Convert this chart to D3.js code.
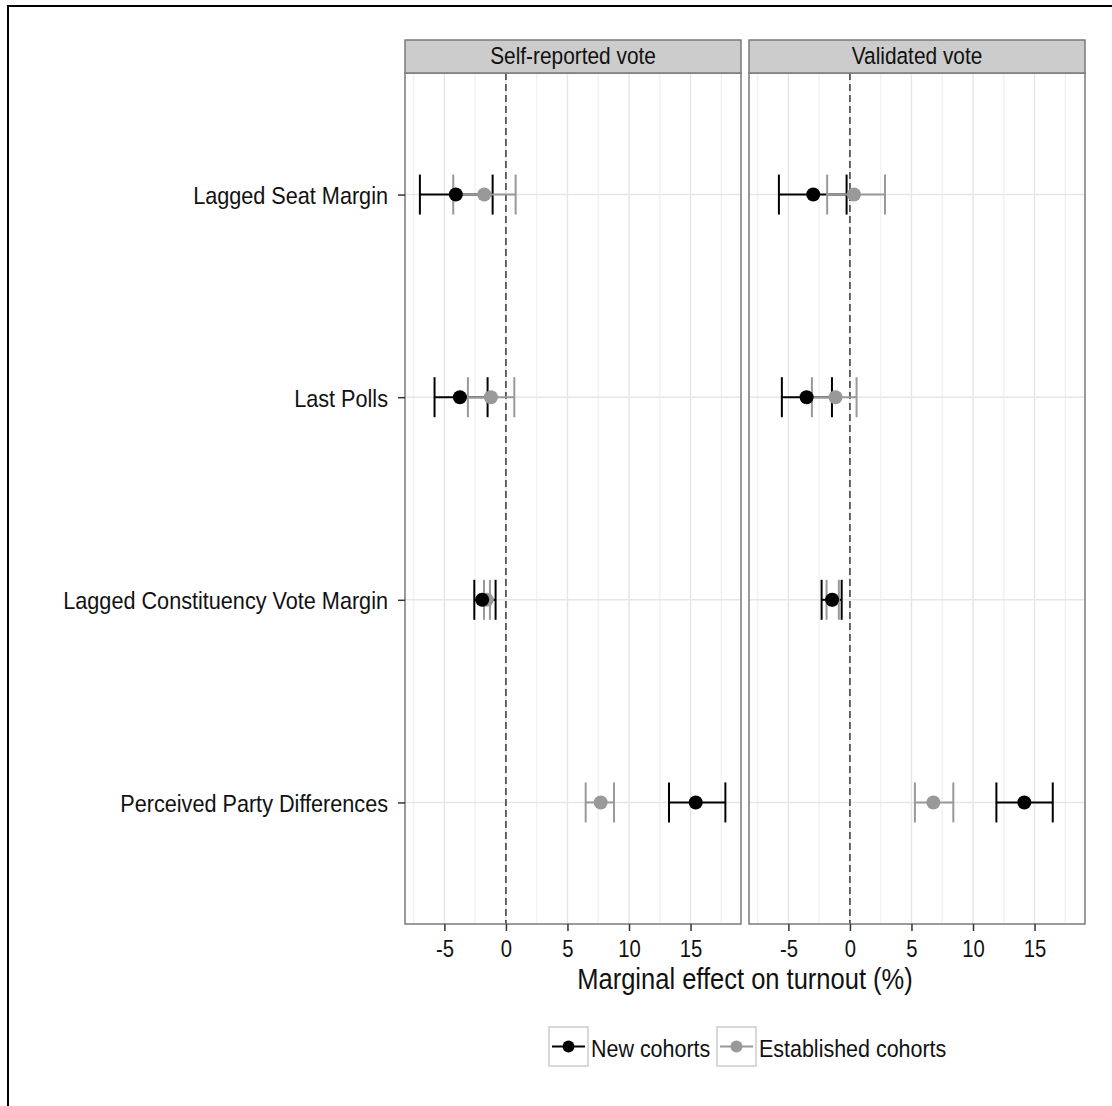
<!DOCTYPE html>
<html>
<head>
<meta charset="utf-8">
<script src="https://cdn.jsdelivr.net/npm/d3@7"></script>
<style>
  html, body { margin: 0; padding: 0; background: #fff; }
  svg { display: block; }
  text { font-family: "Liberation Sans", Arial, sans-serif; fill: #111; }
</style>
</head>
<body>
<script>
// Predictors (top to bottom) and facet panels
const predictors = ["Lagged Seat Margin", "Last Polls", "Lagged Constituency Vote Margin", "Perceived Party Differences"];
const panels = ["Self-reported vote", "Validated vote"];
const cohorts = ["New cohorts", "Established cohorts"];
const xTicks = [-5, 0, 5, 10, 15];

// Marginal effects (%) with 95% interval, per panel, in predictor order
const newSelfEst   = [-4.07, -3.74, -1.93, 15.42];
const newSelfLo    = [-6.99, -5.80, -2.57, 13.25];
const newSelfHi    = [-1.08, -1.49, -0.84, 17.83];
const estSelfEst   = [-1.76, -1.22, -1.55, 7.70];
const estSelfLo    = [-4.28, -3.09, -1.78, 6.48];
const estSelfHi    = [ 0.79,  0.68, -1.30, 8.78];

const newValEst    = [-2.98, -3.52, -1.45, 14.17];
const newValLo     = [-5.77, -5.53, -2.30, 11.90];
const newValHi     = [-0.27, -1.46, -0.67, 16.48];
const estValEst    = [ 0.33, -1.17, -1.40, 6.78];
const estValLo     = [-1.85, -3.09, -1.90, 5.28];
const estValHi     = [ 2.85,  0.54, -0.90, 8.40];

const rows = [];
predictors.forEach((p, i) => {
  rows.push({panel: panels[0], cohort: cohorts[0], pred: p, est: newSelfEst[i], lo: newSelfLo[i], hi: newSelfHi[i]});
  rows.push({panel: panels[0], cohort: cohorts[1], pred: p, est: estSelfEst[i], lo: estSelfLo[i], hi: estSelfHi[i]});
  rows.push({panel: panels[1], cohort: cohorts[0], pred: p, est: newValEst[i], lo: newValLo[i], hi: newValHi[i]});
  rows.push({panel: panels[1], cohort: cohorts[1], pred: p, est: estValEst[i], lo: estValLo[i], hi: estValHi[i]});
});

const W = 1112, H = 1106;
const SX = 0.88; // horizontally condensed lettering
const colour = d3.scaleOrdinal().domain(cohorts).range(["#000000", "#999999"]);

const svg = d3.select("body").append("svg").attr("width", W).attr("height", H);

// outer frame
svg.append("rect").attr("x", 8).attr("y", 6).attr("width", 1120).attr("height", 1120)
  .attr("fill", "none").attr("stroke", "#000").attr("stroke-width", 2);

function label(g, x, y, str, size, anchor, weight) {
  return g.append("text")
    .attr("transform", `translate(${x},${y}) scale(${SX},1)`)
    .attr("text-anchor", anchor || "start")
    .attr("font-size", size)
    .attr("font-weight", weight || "normal")
    .text(str);
}

const panelTop = 73, panelBottom = 924, stripTop = 40;
const panelX = [[405, 741], [749, 1085]];
const xDomain = [-8.2, 19.1];

const y = d3.scalePoint().domain(predictors).range([panelTop, panelBottom]).padding(0.6);
const capHalf = 20;

panels.forEach((pname, pi) => {
  const [x0, x1] = panelX[pi];
  const x = d3.scaleLinear().domain(xDomain).range([x0, x1]);
  const g = svg.append("g");

  // minor grid
  const minor = d3.range(-7.5, 19.1, 5);
  g.selectAll(".minor").data(minor).enter().append("line")
    .attr("x1", d => x(d)).attr("x2", d => x(d))
    .attr("y1", panelTop).attr("y2", panelBottom)
    .attr("stroke", "#f2f2f2").attr("stroke-width", 1.5);
  // major grid
  g.selectAll(".major").data(xTicks).enter().append("line")
    .attr("x1", d => x(d)).attr("x2", d => x(d))
    .attr("y1", panelTop).attr("y2", panelBottom)
    .attr("stroke", "#e6e6e6").attr("stroke-width", 1.5);
  g.selectAll(".hgrid").data(predictors).enter().append("line")
    .attr("x1", x0).attr("x2", x1)
    .attr("y1", d => y(d)).attr("y2", d => y(d))
    .attr("stroke", "#e6e6e6").attr("stroke-width", 1.5);

  // reference line at zero
  g.append("line")
    .attr("x1", x(0)).attr("x2", x(0)).attr("y1", panelTop).attr("y2", panelBottom)
    .attr("stroke", "#444").attr("stroke-width", 1.6).attr("stroke-dasharray", "7,4");

  const data = rows.filter(r => r.panel === pname);

  // error bars
  data.forEach(r => {
    const c = colour(r.cohort), yy = y(r.pred);
    g.append("line").attr("x1", x(r.lo)).attr("x2", x(r.hi)).attr("y1", yy).attr("y2", yy)
      .attr("stroke", c).attr("stroke-width", 2);
    [r.lo, r.hi].forEach(v => {
      g.append("line").attr("x1", x(v)).attr("x2", x(v)).attr("y1", yy - capHalf).attr("y2", yy + capHalf)
        .attr("stroke", c).attr("stroke-width", 2);
    });
  });
  // points (established first so new cohorts sit on top)
  [cohorts[1], cohorts[0]].forEach(ch => {
    g.selectAll(null).data(data.filter(r => r.cohort === ch)).enter().append("circle")
      .attr("cx", d => x(d.est)).attr("cy", d => y(d.pred)).attr("r", 7)
      .attr("fill", colour(ch));
  });

  // panel border
  g.append("rect").attr("x", x0).attr("y", panelTop).attr("width", x1 - x0).attr("height", panelBottom - panelTop)
    .attr("fill", "none").attr("stroke", "#7a7a7a").attr("stroke-width", 1.5);

  // strip
  g.append("rect").attr("x", x0).attr("y", stripTop).attr("width", x1 - x0).attr("height", panelTop - stripTop)
    .attr("fill", "#cccccc").attr("stroke", "#7a7a7a").attr("stroke-width", 1.5);
  label(g, (x0 + x1) / 2, stripTop + 24, pname, 23.7, "middle");

  // x axis
  const ax = g.append("g").attr("transform", `translate(0,${panelBottom})`)
    .call(d3.axisBottom(x).tickValues(xTicks).tickSize(7).tickFormat(d3.format("d")));
  ax.select(".domain").remove();
  ax.selectAll(".tick line").attr("stroke", "#333").attr("stroke-width", 1.5);
  ax.selectAll(".tick text").remove();
  ax.selectAll(".tick").each(function(d) {
    label(d3.select(this), 0, 33, d, 23, "middle");
  });
});

// y axis (left of first panel)
const ay = svg.append("g").attr("transform", `translate(${panelX[0][0]},0)`)
  .call(d3.axisLeft(y).tickSize(7));
ay.select(".domain").remove();
ay.selectAll(".tick line").attr("stroke", "#333").attr("stroke-width", 1.5);
ay.selectAll(".tick text").remove();
ay.selectAll(".tick").each(function(d) {
  label(d3.select(this), -17, 9, d, 24.6, "end");
});

// axis title
label(svg, (panelX[0][0] + panelX[1][1]) / 2, 989, "Marginal effect on turnout (%)", 29, "middle");

// legend
const legX = [549, 717];
cohorts.forEach((ch, i) => {
  const lg = svg.append("g").attr("transform", `translate(${legX[i]},1027)`);
  lg.append("rect").attr("x", 0).attr("y", 0).attr("width", 39).attr("height", 39)
    .attr("fill", "#fff").attr("stroke", "#cccccc").attr("stroke-width", 1.5);
  lg.append("line").attr("x1", 3).attr("x2", 36).attr("y1", 19.5).attr("y2", 19.5)
    .attr("stroke", colour(ch)).attr("stroke-width", 2);
  lg.append("circle").attr("cx", 19.5).attr("cy", 19.5).attr("r", 6).attr("fill", colour(ch));
  label(lg, 42, 30, ch, 24.4, "start");
});
</script>
</body>
</html>
